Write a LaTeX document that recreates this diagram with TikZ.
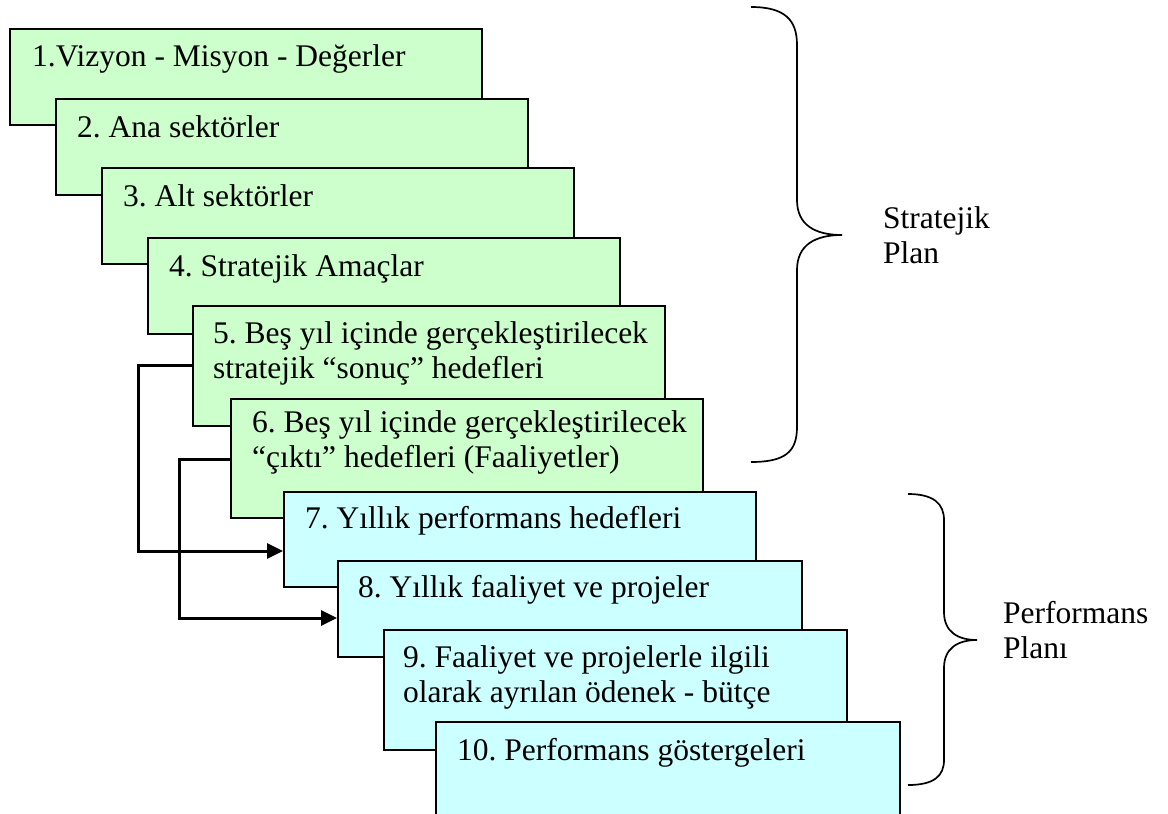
\documentclass[tikz,border=0pt]{standalone}
\usepackage{fontspec}
\setmainfont{Liberation Serif}
\usetikzlibrary{arrows.meta,calc}
\definecolor{boxgreen}{HTML}{CCFFCC}
\definecolor{boxcyan}{HTML}{CCFFFF}
\frenchspacing
\tikzset{
  stage/.style={draw=black, line width=2pt, rectangle, inner sep=0pt, anchor=north west, minimum width=472pt},
  sgreen/.style={stage, fill=boxgreen},
  scyan/.style={stage, fill=boxcyan},
  lbl/.style={anchor=north west, inner sep=0pt, align=left, font=\fontsize{31.5}{35}\selectfont},
  conn/.style={line width=3pt, -{Triangle[length=16pt,width=15pt]}},
  bracestyle/.style={line width=1.7pt},
}
% labels: node north = baseline - 24.5 (strut height 0.7*35)
\begin{document}
\begin{tikzpicture}[x=1pt,y=-1pt]
\useasboundingbox (0,0) rectangle (1168,814);
\clip (0,0) rectangle (1168,814);
% boxes
\node[sgreen, minimum height=96pt] (b1) at (9,28) {};
\node[lbl] (t1) at (32,41.5) {\strut 1.Vizyon - Misyon - Değerler};
\node[sgreen, minimum height=96pt] (b2) at (55,98) {};
\node[lbl] (t2) at (77,112.5) {\strut 2. Ana sektörler};
\node[sgreen, minimum height=96pt] (b3) at (101,167) {};
\node[lbl] (t3) at (123,181.5) {\strut 3. Alt sektörler};
\node[sgreen, minimum height=96pt] (b4) at (147,237) {};
\node[lbl] (t4) at (169,251.5) {\strut 4. Stratejik Amaçlar};
\node[sgreen, minimum height=120pt] (b5) at (192,305) {};
\node[lbl] (t5) at (213,318.5) {\strut 5. Beş yıl içinde gerçekleştirilecek\\stratejik “sonuç” hedefleri};
\node[sgreen, minimum height=119pt] (b6) at (230,398) {};
\node[lbl] (t6) at (252,407.5) {\strut 6. Beş yıl içinde gerçekleştirilecek\\“çıktı” hedefleri (Faaliyetler)};
\node[scyan, minimum height=95pt] (b7) at (283,491) {};
\node[lbl] (t7) at (305,503.5) {\strut 7. Yıllık performans hedefleri};
\node[scyan, minimum height=96pt, minimum width=464pt] (b8) at (337,560) {};
\node[lbl] (t8) at (358,572.5) {\strut 8. Yıllık faaliyet ve projeler};
\node[scyan, minimum height=120pt, minimum width=463pt] (b9) at (383,629) {};
\node[lbl] (t9) at (403,642.5) {\strut 9. Faaliyet ve projelerle ilgili\\olarak ayrılan ödenek - bütçe};
\node[scyan, minimum height=130pt, minimum width=464pt] (b10) at (435,721) {};
\node[lbl] (t10) at (457,735.5) {\strut 10. Performans göstergeleri};
% connectors
\coordinate (k1) at (138,365);
\coordinate (k2) at (179,459);
\draw[conn] ($(b5.north west)+(0,60)$) -- (k1) |- ($(b7.north west)+(0,60)$);
\draw[conn] ($(b6.north west)+(0,61)$) -- (k2) |- ($(b8.north west)+(0,58)$);
% braces
\draw[bracestyle] (751,7) .. controls (785,7) and (797,20) .. (797,45)
  -- (797,200) .. controls (797,225) and (815,235) .. (842,235)
  .. controls (815,235) and (797,245) .. (797,270)
  -- (797,427) .. controls (797,452) and (785,462) .. (751,462);
\node[lbl] (sp) at (883,203.5) {\strut Stratejik\\Plan};
\draw[bracestyle] (908,494) .. controls (934,494) and (944,504) .. (944,520)
  -- (944,612) .. controls (944,632) and (958,640) .. (977,640)
  .. controls (958,640) and (944,648) .. (944,668)
  -- (944,760) .. controls (944,776) and (934,785) .. (908,785);
\node[lbl] (pp) at (1003,598.5) {\strut Performans\\Planı};
\end{tikzpicture}
\end{document}
